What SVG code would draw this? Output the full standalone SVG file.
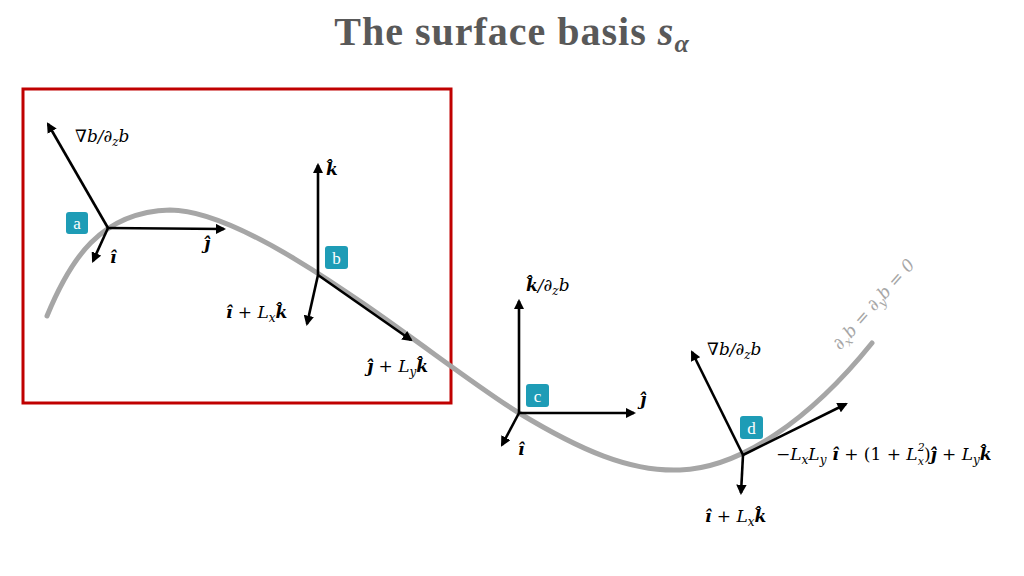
<svg xmlns="http://www.w3.org/2000/svg" width="1024" height="576" viewBox="0 0 1024 576">
<style>
.title{font-family:"Liberation Serif","DejaVu Serif",serif;font-weight:bold;font-size:40px;letter-spacing:1px;fill:#595959}
.m{font-family:"DejaVu Serif","Liberation Serif",serif;font-style:italic;font-size:17px;fill:#000}
.b{font-weight:bold}
.r{font-style:normal}
.sub{font-size:12px}
.vec{stroke:#000;stroke-width:2.6;fill:none;marker-end:url(#ah)}
.tag rect{fill:#1E9CB6}
.tag text{font-family:"Liberation Serif","DejaVu Serif",serif;font-size:17px;fill:#fff;text-anchor:middle}
</style>
<defs>
<marker id="ah" viewBox="0 0 10 10" refX="8" refY="5" markerWidth="4" markerHeight="4" orient="auto" markerUnits="strokeWidth">
<path d="M0,0 L10,5 L0,10 z" fill="#000"/>
</marker>
</defs>
<rect width="1024" height="576" fill="#fff"/>
<text class="title" x="512" y="45" text-anchor="middle">The surface basis <tspan font-style="italic">s</tspan><tspan font-style="italic" font-size="26" dy="7">α</tspan></text>
<rect x="23" y="89" width="428" height="314" fill="none" stroke="#C00000" stroke-width="3"/>
<g id="surface">
<path d="M47,316 C70,260 100,212 170,210 C260,210 440,365 519,413 C580,450 630,472 680,470 C740,468 810,420 872,343" fill="none" stroke="#A6A6A6" stroke-width="5" stroke-linecap="round"/>
<text transform="translate(878,308) rotate(-48.6)" text-anchor="middle" font-family="DejaVu Serif, Liberation Serif, serif" font-style="italic" font-size="17" fill="#A6A6A6">∂<tspan font-size="12" dy="4">x</tspan><tspan dy="-4">b = ∂</tspan><tspan font-size="12" dy="4">y</tspan><tspan dy="-4">b = 0</tspan></text>
</g>
<g id="connectors">
<line class="vec" x1="108" y1="228" x2="48" y2="124"/>
<line class="vec" x1="108" y1="228" x2="224" y2="229"/>
<line class="vec" x1="108" y1="228" x2="93" y2="261"/>
<line class="vec" x1="318" y1="275" x2="318" y2="165"/>
<line class="vec" x1="318" y1="275" x2="307" y2="324"/>
<line class="vec" x1="318" y1="275" x2="411" y2="340"/>
<line class="vec" x1="519" y1="413" x2="519" y2="301"/>
<line class="vec" x1="519" y1="413" x2="634" y2="413"/>
<line class="vec" x1="519" y1="413" x2="502" y2="445"/>
<line class="vec" x1="743" y1="455" x2="692" y2="352"/>
<line class="vec" x1="743" y1="455" x2="846" y2="404"/>
<line class="vec" x1="743" y1="455" x2="741" y2="493"/>
</g>
<g id="node-a">
<g class="tag"><rect x="66" y="212" width="22" height="22" rx="3"/><text x="77" y="229">a</text></g>
<text class="m" x="75" y="142">∇<tspan>b/∂</tspan><tspan class="sub" dy="4">z</tspan><tspan dy="-4">b</tspan></text>
<text class="m b" x="204" y="249">ĵ</text>
<text class="m b" x="110" y="263">î</text>
</g>
<g id="node-b">
<g class="tag"><rect x="325" y="246" width="23" height="23" rx="3"/><text x="336.5" y="264">b</text></g>
<text class="m b" x="326" y="175">k̂</text>
<text class="m" x="226" y="318"><tspan class="b">î</tspan><tspan class="r"> + </tspan>L<tspan class="sub" dy="4">x</tspan><tspan class="b" dy="-4">k̂</tspan></text>
<text class="m" x="367" y="372"><tspan class="b">ĵ</tspan><tspan class="r"> + </tspan>L<tspan class="sub" dy="4">y</tspan><tspan class="b" dy="-4">k̂</tspan></text>
</g>
<g id="node-c">
<g class="tag"><rect x="526" y="384" width="23" height="23" rx="3"/><text x="537.5" y="402">c</text></g>
<text class="m" x="526" y="291"><tspan class="b">k̂</tspan>/∂<tspan class="sub" dy="4">z</tspan><tspan dy="-4">b</tspan></text>
<text class="m b" x="640" y="405">ĵ</text>
<text class="m b" x="518" y="455">î</text>
</g>
<g id="node-d">
<g class="tag"><rect x="740" y="416" width="23" height="23" rx="3"/><text x="751.5" y="434">d</text></g>
<text class="m" x="707" y="355">∇<tspan>b/∂</tspan><tspan class="sub" dy="4">z</tspan><tspan dy="-4">b</tspan></text>
<text class="m" x="776" y="460"><tspan class="r">−</tspan>L<tspan class="sub" dy="4">x</tspan><tspan dy="-4">L</tspan><tspan class="sub" dy="4">y</tspan><tspan class="b" dy="-4"> î</tspan><tspan class="r"> + (1 + </tspan>L<tspan font-size="11" dy="-9">2</tspan><tspan font-size="11" dx="-7" dy="14">x</tspan><tspan class="r" dy="-5">)</tspan><tspan class="b">ĵ</tspan><tspan class="r"> + </tspan>L<tspan class="sub" dy="4">y</tspan><tspan class="b" dy="-4">k̂</tspan></text>
<text class="m" x="705" y="522"><tspan class="b">î</tspan><tspan class="r"> + </tspan>L<tspan class="sub" dy="4">x</tspan><tspan class="b" dy="-4">k̂</tspan></text>
</g>
</svg>
